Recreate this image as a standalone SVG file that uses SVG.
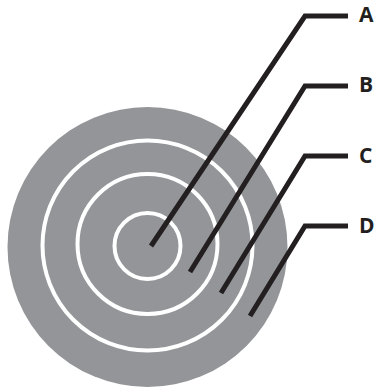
<svg xmlns="http://www.w3.org/2000/svg" width="375" height="388" viewBox="0 0 375 388">
<style>
.ring{fill:none;stroke:#ffffff;stroke-width:4}
.lead{fill:none;stroke:#231f20;stroke-width:5;stroke-linejoin:miter}
.lbl{font-family:"Open Sans","Liberation Sans",sans-serif;font-weight:bold;font-size:21px;fill:#231f20}
</style>
<rect width="375" height="388" fill="#ffffff"/>
<g id="target">
<circle cx="147.5" cy="247" r="140" fill="#939598"/>
<circle class="ring" cx="147.5" cy="246" r="33"/>
<circle class="ring" cx="147.5" cy="244" r="70"/>
<circle class="ring" cx="147.5" cy="245.5" r="105"/>
</g>
<g id="connectors">
<polyline class="lead" points="151,246 305,16 348,16"/>
<polyline class="lead" points="190,272 305,86 348,86"/>
<polyline class="lead" points="221,293 305,156 348,156"/>
<polyline class="lead" points="250,316 305,226 348,226"/>
</g>
<g id="label-A"><text class="lbl" x="359" y="22">A</text></g>
<g id="label-B"><text class="lbl" x="359" y="92">B</text></g>
<g id="label-C"><text class="lbl" x="359" y="163">C</text></g>
<g id="label-D"><text class="lbl" x="359" y="233">D</text></g>
</svg>
